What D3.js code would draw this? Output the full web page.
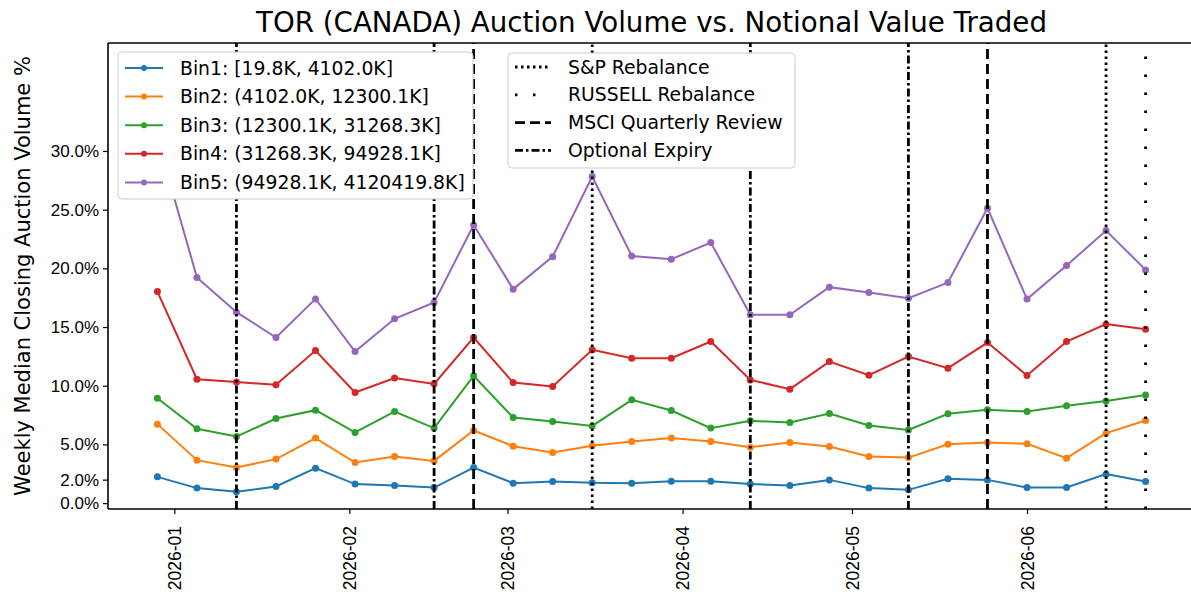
<!DOCTYPE html>
<html>
<head>
<meta charset="utf-8">
<script src="https://cdn.jsdelivr.net/npm/d3@7"></script>
<style>
  body { margin: 0; background: #fff; }
  svg { font-family: "DejaVu Sans", sans-serif; }
</style>
</head>
<body>
<div id="chart"></div>
<script>
const weeks = ["2025-12-29","2026-01-05","2026-01-12","2026-01-19","2026-01-26","2026-02-02","2026-02-09",
  "2026-02-16","2026-02-23","2026-03-02","2026-03-09","2026-03-16","2026-03-23","2026-03-30","2026-04-06",
  "2026-04-13","2026-04-20","2026-04-27","2026-05-04","2026-05-11","2026-05-18","2026-05-25","2026-06-01",
  "2026-06-08","2026-06-15","2026-06-22"];

const binNames = ["Bin1: [19.8K, 4102.0K]", "Bin2: (4102.0K, 12300.1K]", "Bin3: (12300.1K, 31268.3K]",
  "Bin4: (31268.3K, 94928.1K]", "Bin5: (94928.1K, 4120419.8K]"];
const binColors = ["#1f77b4", "#ff7f0e", "#2ca02c", "#d62728", "#9467bd"];

const bin1 = [2.24,1.28,0.96,1.42,2.98,1.62,1.50,1.33,3.03,1.70,1.84,1.73,1.70,1.87,1.87,1.62,1.50,1.98,1.28,1.13,2.07,1.98,1.33,1.33,2.47,1.84];
const bin2 = [6.73,3.66,3.03,3.75,5.54,3.46,3.97,3.60,6.19,4.85,4.31,4.88,5.25,5.54,5.25,4.77,5.16,4.82,3.97,3.88,5.02,5.16,5.05,3.83,5.96,7.04];
const bin3 = [8.94,6.33,5.67,7.21,7.92,6.02,7.80,6.39,10.85,7.29,6.95,6.58,8.80,7.89,6.39,7.01,6.87,7.63,6.61,6.24,7.61,7.95,7.80,8.29,8.71,9.22];
const bin4 = [18.02,10.56,10.31,10.08,13.0,9.42,10.65,10.16,14.11,10.27,9.93,13.06,12.35,12.35,13.77,10.5,9.71,12.06,10.9,12.49,11.5,13.68,10.87,13.77,15.25,14.82];
const bin5 = [31.0,19.22,16.27,14.11,17.40,12.91,15.70,17.09,23.7,18.23,21.0,27.82,21.06,20.78,22.2,16.04,16.04,18.4,17.94,17.46,18.79,25.13,17.38,20.24,23.22,19.87];

const spDates = ["2026-03-16", "2026-06-15"];
const russellDates = ["2026-06-22"];
const msciDates = ["2026-02-23", "2026-05-25"];
const optDates = ["2026-01-12", "2026-02-16", "2026-04-13", "2026-05-11"];

const yTicks = [0, 2, 5, 10, 15, 20, 25, 30];

const width = 1191, height = 607;
const margin = {left: 108, right: -4, top: 43, bottom: 98};

const parse = d3.utcParse("%Y-%m-%d");
const dates = weeks.map(parse);
const series = [bin1, bin2, bin3, bin4, bin5];

const svg = d3.select("#chart").append("svg")
    .attr("width", width)
    .attr("height", height);

// 5% padding on both sides like matplotlib
const ext = d3.extent(dates);
const pad = (ext[1] - ext[0]) * 0.05;
const x = d3.scaleUtc()
    .domain([new Date(+ext[0] - pad), new Date(+ext[1] + pad)])
    .range([margin.left, width - margin.right]);

const y = d3.scaleLinear()
    .domain([-0.5, 39.2])
    .range([height - margin.bottom, margin.top]);

const plotBottom = height - margin.bottom;

// title
svg.append("text")
    .attr("x", (margin.left + width - margin.right) / 2)
    .attr("y", 32)
    .attr("text-anchor", "middle")
    .style("font-size", "27.7px")
    .text("TOR (CANADA) Auction Volume vs. Notional Value Traded");

// y axis label
svg.append("text")
    .attr("transform", `translate(30,${(margin.top + plotBottom) / 2}) rotate(-90)`)
    .attr("text-anchor", "middle")
    .style("font-size", "21px")
    .text("Weekly Median Closing Auction Volume %");

// data lines
const line = d3.line()
    .x((d, i) => x(dates[i]))
    .y(d => y(d));

const gSeries = svg.append("g");
series.forEach((s, k) => {
    gSeries.append("path")
        .datum(s)
        .attr("d", line)
        .attr("fill", "none")
        .attr("stroke", binColors[k])
        .attr("stroke-width", 2);
    gSeries.selectAll(null)
        .data(s)
        .enter()
        .append("circle")
        .attr("cx", (d, i) => x(dates[i]))
        .attr("cy", d => y(d))
        .attr("r", 3.5)
        .attr("fill", binColors[k]);
});

// event lines
const events = [
    {name: "S&P Rebalance", dates: spDates, dash: "2.5,3.5"},
    {name: "RUSSELL Rebalance", dates: russellDates, dash: "2.5,15.5"},
    {name: "MSCI Quarterly Review", dates: msciDates, dash: "10,5"},
    {name: "Optional Expiry", dates: optDates, dash: "8,3,2.5,3"}
];

const gEvents = svg.append("g");
events.forEach(ev => {
    gEvents.selectAll(null)
        .data(ev.dates.map(parse))
        .enter()
        .append("line")
        .attr("x1", d => x(d))
        .attr("x2", d => x(d))
        .attr("y1", plotBottom)
        .attr("y2", margin.top)
        .attr("stroke", "#000")
        .attr("stroke-width", 2.8)
        .attr("stroke-dasharray", ev.dash);
});

// axes
const yAxis = svg.append("g")
    .attr("transform", `translate(${margin.left},0)`)
    .call(d3.axisLeft(y).tickValues(yTicks).tickFormat(d => d.toFixed(1) + "%").tickSize(5).tickPadding(4));
yAxis.select(".domain").attr("d", `M0,${plotBottom}V${margin.top}`).attr("stroke-width", 1.6);
yAxis.selectAll("text").style("font-size", "17px").attr("fill", "#000");
yAxis.selectAll(".tick line").attr("stroke-width", 1.2);

const xAxis = svg.append("g")
    .attr("transform", `translate(0,${plotBottom})`)
    .call(d3.axisBottom(x).ticks(d3.utcMonth.every(1)).tickFormat(d3.utcFormat("%Y-%m")).tickSize(5));
xAxis.select(".domain").attr("d", `M${margin.left},0H${width}`).attr("stroke-width", 1.6);
xAxis.selectAll(".tick line").attr("stroke-width", 1.2);
xAxis.selectAll("text")
    .style("font-size", "17.5px")
    .attr("fill", "#000")
    .attr("transform", "rotate(-90)")
    .attr("text-anchor", "end")
    .attr("x", -17)
    .attr("y", 0)
    .attr("dy", "0.35em");

// top spine
svg.append("line")
    .attr("x1", margin.left).attr("x2", width)
    .attr("y1", margin.top).attr("y2", margin.top)
    .attr("stroke", "#000").attr("stroke-width", 1.6);

// legend for bins
const leg1 = svg.append("g").attr("transform", "translate(118,52)");
leg1.append("rect")
    .attr("width", 355).attr("height", 147).attr("rx", 4)
    .attr("fill", "#fff")
    .attr("stroke", "#ccc");
binNames.forEach((name, i) => {
    const yy = 16 + i * 28.6;
    leg1.append("line")
        .attr("x1", 7).attr("x2", 45).attr("y1", yy).attr("y2", yy)
        .attr("stroke", binColors[i]).attr("stroke-width", 2);
    leg1.append("circle")
        .attr("cx", 26).attr("cy", yy).attr("r", 3)
        .attr("fill", binColors[i]);
    leg1.append("text")
        .attr("x", 62).attr("y", yy).attr("dy", "0.35em")
        .style("font-size", "18.8px")
        .text(name);
});

// legend for events
const leg2 = svg.append("g").attr("transform", "translate(508,53)");
leg2.append("rect")
    .attr("width", 287).attr("height", 115).attr("rx", 4)
    .attr("fill", "#fff")
    .attr("stroke", "#ccc");
events.forEach((ev, i) => {
    const yy = 14 + i * 27.8;
    leg2.append("line")
        .attr("x1", 7).attr("x2", 43).attr("y1", yy).attr("y2", yy)
        .attr("stroke", "#000").attr("stroke-width", 2.8)
        .attr("stroke-dasharray", ev.dash);
    leg2.append("text")
        .attr("x", 60).attr("y", yy).attr("dy", "0.35em")
        .style("font-size", "18.8px")
        .text(ev.name);
});
</script>
</body>
</html>
